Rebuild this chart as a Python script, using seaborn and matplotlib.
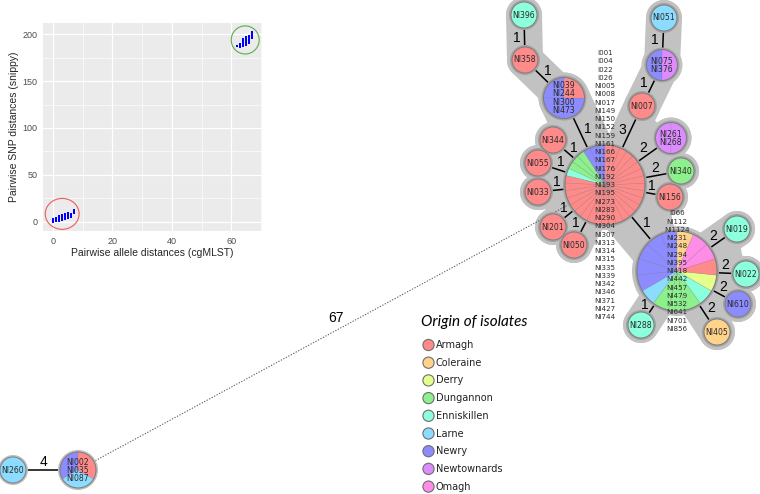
import numpy as np
import pandas as pd
import matplotlib.pyplot as plt
import seaborn as sns
from matplotlib.patches import Circle, Wedge, Ellipse, Polygon
from matplotlib.ticker import MultipleLocator

sns.set_theme(style="darkgrid")
plt.rcParams["font.family"] = ["DejaVu Sans"]

# ---- inset data: cgMLST allele distance -> snippy SNP distances ----
snp_by_allele = {
    0: [0, 1, 2, 3],
    1: [1, 2, 3, 4],
    2: [1, 2, 3, 4, 5, 6],
    3: [2, 3, 4, 5, 6, 7],
    4: [3, 4, 5, 6, 7, 8],
    5: [4, 5, 6, 7, 8, 9],
    6: [5, 6, 7, 8],
    7: [9, 10, 11, 12],
    62: [187, 188],
    63: [186, 187, 188, 189, 190],
    64: [188, 189, 190, 191, 192, 193, 194, 195],
    65: [189, 190, 191, 192, 193, 194, 195, 196, 197],
    66: [191, 192, 193, 194, 195, 196, 197, 198],
    67: [196, 197, 198, 199, 200, 201, 202],
}

# ---- minimum spanning tree data ----
origins = ["Armagh", "Coleraine", "Derry", "Dungannon", "Enniskillen",
           "Larne", "Newry", "Newtownards", "Omagh"]
origin_colors = ["#ff8a8a", "#ffd38c", "#e6ff8c", "#8cf08c", "#8cffdc",
                 "#8cdcff", "#8c8cff", "#dc8cff", "#ff8ce6"]

members = {
    "NI396": ["NI396"],
    "NI358": ["NI358"],
    "NI039": ["NI039", "NI244", "NI300", "NI473"],
    "NI344": ["NI344"],
    "NI055": ["NI055"],
    "NI033": ["NI033"],
    "I001": ["I001", "I004", "I022", "I026", "NI005", "NI008", "NI017", "NI149",
             "NI150", "NI152", "NI159", "NI161", "NI166", "NI167", "NI176",
             "NI192", "NI193", "NI195", "NI273", "NI283", "NI290", "NI304",
             "NI307", "NI313", "NI314", "NI315", "NI335", "NI339", "NI342",
             "NI346", "NI371", "NI427", "NI744"],
    "NI051": ["NI051"],
    "NI075": ["NI075", "NI376"],
    "NI007": ["NI007"],
    "NI261": ["NI261", "NI268"],
    "NI340": ["NI340"],
    "NI156": ["NI156"],
    "NI201": ["NI201"],
    "NI050": ["NI050"],
    "I066": ["I066", "NI112", "NI1124", "NI231", "NI248", "NI294", "NI395",
             "NI418", "NI442", "NI457", "NI479", "NI532", "NI641", "NI701",
             "NI856"],
    "NI019": ["NI019"],
    "NI022": ["NI022"],
    "NI610": ["NI610"],
    "NI405": ["NI405"],
    "NI288": ["NI288"],
    "NI260": ["NI260"],
    "NI002": ["NI002", "NI035", "NI087"],
}

# origin counts per node, counter-clockwise from 12 o'clock
slices = {
    "NI396": [("Enniskillen", 1)],
    "NI358": [("Armagh", 1)],
    "NI039": [("Newry", 3), ("Armagh", 1)],
    "NI344": [("Armagh", 1)],
    "NI055": [("Armagh", 1)],
    "NI033": [("Armagh", 1)],
    "I001": [("Newry", 3), ("Dungannon", 3), ("Enniskillen", 1), ("Armagh", 26)],
    "NI051": [("Larne", 1)],
    "NI075": [("Newry", 1), ("Newtownards", 1)],
    "NI007": [("Armagh", 1)],
    "NI261": [("Newtownards", 2)],
    "NI340": [("Dungannon", 1)],
    "NI156": [("Armagh", 1)],
    "NI201": [("Armagh", 1)],
    "NI050": [("Armagh", 1)],
    "I066": [("Newry", 5), ("Larne", 1), ("Dungannon", 3), ("Enniskillen", 1),
             ("Derry", 1), ("Armagh", 1), ("Omagh", 2), ("Coleraine", 1)],
    "NI019": [("Enniskillen", 1)],
    "NI022": [("Enniskillen", 1)],
    "NI610": [("Newry", 1)],
    "NI405": [("Coleraine", 1)],
    "NI288": [("Enniskillen", 1)],
    "NI260": [("Larne", 1)],
    "NI002": [("Newry", 1), ("Larne", 1), ("Armagh", 1)],
}

# node centres as laid out in the figure (pixels, from top-left)
layout = {
    "NI396": (524, 15), "NI358": (525, 60), "NI039": (564, 98),
    "NI344": (553, 140), "NI055": (538, 163), "NI033": (538, 192),
    "I001": (605, 185), "NI051": (664, 18), "NI075": (662, 65),
    "NI007": (642, 106), "NI261": (671, 138), "NI340": (681, 171),
    "NI156": (670, 197), "NI201": (553, 227), "NI050": (574, 245),
    "I066": (677, 271), "NI019": (737, 229), "NI022": (746, 274),
    "NI610": (738, 304), "NI405": (717, 332), "NI288": (641, 325),
    "NI260": (13, 470), "NI002": (78, 470),
}

# (from, to, allele differences)
edges = [
    ("NI358", "NI396", 1), ("NI358", "NI039", 1), ("NI039", "I001", 1),
    ("NI344", "I001", 1), ("NI055", "I001", 1), ("NI033", "I001", 1),
    ("NI201", "I001", 1), ("NI050", "I001", 1), ("I001", "NI007", 3),
    ("NI007", "NI075", 1), ("NI075", "NI051", 1), ("I001", "NI261", 2),
    ("I001", "NI340", 2), ("I001", "NI156", 1), ("I001", "I066", 1),
    ("I066", "NI019", 2), ("I066", "NI022", 2), ("I066", "NI610", 2),
    ("I066", "NI405", 2), ("NI288", "I066", 1), ("NI260", "NI002", 4),
    ("NI002", "I001", 67),
]
cluster_cutoff = 3

PT = 0.72  # points per pixel at 100 dpi
HULL = "#c2c2c2"

radius = {k: min(13 + 2.5 * (len(v) - 1), 40) for k, v in members.items()}

fig = plt.figure(figsize=(7.6, 4.94), dpi=100)
ax = fig.add_axes([0, 0, 1, 1])
ax.set_xlim(0, 760)
ax.set_ylim(494, 0)
ax.axis("off")

# --- cluster shading ---
hull_edges = [e for e in edges if e[2] <= cluster_cutoff]
hull_nodes = sorted({n for a, b, _ in hull_edges for n in (a, b)})
for a, b, w in hull_edges:
    (xa, ya), (xb, yb) = layout[a], layout[b]
    width = 2 * min(radius[a], radius[b], 22) + 10
    ax.plot([xa, xb], [ya, yb], color=HULL, lw=width * PT,
            solid_capstyle="round", zorder=1)
for n in hull_nodes:
    x, y = layout[n]
    ax.add_patch(Circle((x, y), radius[n] + 5, color=HULL, lw=0, zorder=1))
    nbrs = [b if a == n else a for a, b, _ in hull_edges if n in (a, b)]
    if len(nbrs) < 2:
        continue
    ang = {m: np.degrees(np.arctan2(layout[m][1] - y, layout[m][0] - x)) for m in nbrs}
    order = sorted(nbrs, key=lambda m: ang[m])
    for i, m1 in enumerate(order):
        m2 = order[(i + 1) % len(order)]
        gap = (ang[m2] - ang[m1]) % 360
        if gap < 45:
            ax.add_patch(Polygon([layout[n], layout[m1], layout[m2]], closed=True,
                                 color=HULL, lw=0, zorder=1))

# --- edges ---
for a, b, w in edges:
    (xa, ya), (xb, yb) = layout[a], layout[b]
    if w > 10:
        ax.plot([xa, xb], [ya, yb], color="#555555", lw=0.75,
                ls=(0, (1.2, 1.5)), zorder=3)
    else:
        ax.plot([xa, xb], [ya, yb], color="black", lw=1.1, zorder=3)

    L = np.hypot(xb - xa, yb - ya)
    dx, dy = (xb - xa) / L, (yb - ya) / L
    if w > 10:
        t, off = 0.5, 11
    else:
        t, off = (radius[a] + (L - radius[a] - radius[b]) / 2) / L, 8
    mx, my = xa + (xb - xa) * t + dy * off, ya + (yb - ya) * t - dx * off
    ax.text(mx, my, str(w), ha="center", va="center", fontsize=10,
            family="Liberation Sans", color="black", zorder=7)

# --- nodes ---
for n, (x, y) in layout.items():
    r = radius[n]
    ring = "#a3a3a3" if n in hull_nodes else "#bdbdbd"
    ax.add_patch(Circle((x, y), r + 2, color=ring, lw=0, zorder=4))
    cols = []
    for origin, count in slices[n]:
        cols += [origin_colors[origins.index(origin)]] * count
    step = 360 / len(cols)
    if len(cols) == 1:
        ax.add_patch(Circle((x, y), r, facecolor=cols[0], lw=0, zorder=5))
    else:
        for i, c in enumerate(cols):
            s1 = 90 + i * step
            s2 = s1 + step
            # y axis is flipped, so screen angles are mirrored
            ax.add_patch(Wedge((x, y), r, -s2, -s1, facecolor=c,
                               edgecolor=(0.45, 0.45, 0.45, 0.3), lw=0.35,
                               zorder=5))
    ax.add_patch(Circle((x, y), r, facecolor="none", edgecolor="#7d7d7d",
                        lw=0.7, zorder=6))
    names = members[n]
    big = len(names) > 4
    gap = 8.25 if big else 8
    for i, name in enumerate(names):
        ax.text(x, y + (i - (len(names) - 1) / 2) * gap, name, ha="center",
                va="center", fontsize=5.1 if big else 5.6, color="#2b2b2b",
                zorder=7)

# --- legend ---
ax.text(421, 322, "Origin of isolates", fontsize=11, family="Lato",
        style="italic", ha="left", va="center", color="black")
for i, (origin, c) in enumerate(zip(origins, origin_colors)):
    ly = 345 + i * 17.7
    ax.add_patch(Circle((428.5, ly), 5.6, facecolor=c, edgecolor="#6e6e6e",
                        lw=0.8, zorder=5))
    ax.text(436, ly, origin, fontsize=7, ha="left", va="center", color="#222222")

# --- inset scatter ---
df = pd.DataFrame([(a, s) for a, snps in snp_by_allele.items() for s in snps],
                  columns=["allele", "snp"])
ax_in = fig.add_axes([43 / 760, 1 - 231 / 494, 219 / 760, 208 / 494])
ax_in.set_facecolor("#ebebeb")
sns.scatterplot(data=df, x="allele", y="snp", marker="s", s=2.2, color="#0000ff",
                linewidth=0, ax=ax_in)
ax_in.set_xlim(-3.35, 70.35)
ax_in.set_ylim(-10.1, 212.1)
ax_in.xaxis.set_major_locator(MultipleLocator(20))
ax_in.xaxis.set_minor_locator(MultipleLocator(10))
ax_in.yaxis.set_major_locator(MultipleLocator(50))
ax_in.yaxis.set_minor_locator(MultipleLocator(25))
ax_in.grid(which="major", color="white", lw=0.9)
ax_in.grid(which="minor", color="white", lw=0.45)
ax_in.tick_params(which="major", length=2.5, width=0.6, color="#333333",
                  labelsize=6.5, labelcolor="#4d4d4d", pad=1.5)
ax_in.tick_params(which="minor", length=0)
for lab in ax_in.get_xticklabels() + ax_in.get_yticklabels():
    lab.set_family("Liberation Sans")
for sp in ax_in.spines.values():
    sp.set_visible(False)
ax_in.set_xlabel("Pairwise allele distances (cgMLST)", fontsize=7.5,
                 family="Liberation Sans", labelpad=1.5)
ax_in.set_ylabel("Pairwise SNP distances (snippy)", fontsize=7.5,
                 family="Liberation Sans", labelpad=2.5)
ax_in.add_patch(Ellipse((3.1, 8.2), 11.4, 33, facecolor="none",
                        edgecolor="#f05a5a", lw=0.8))
ax_in.add_patch(Ellipse((64.7, 194), 9.4, 30, facecolor="none",
                        edgecolor="#5aaf46", lw=0.8))

fig.savefig("out.png", dpi=100, facecolor="white")
